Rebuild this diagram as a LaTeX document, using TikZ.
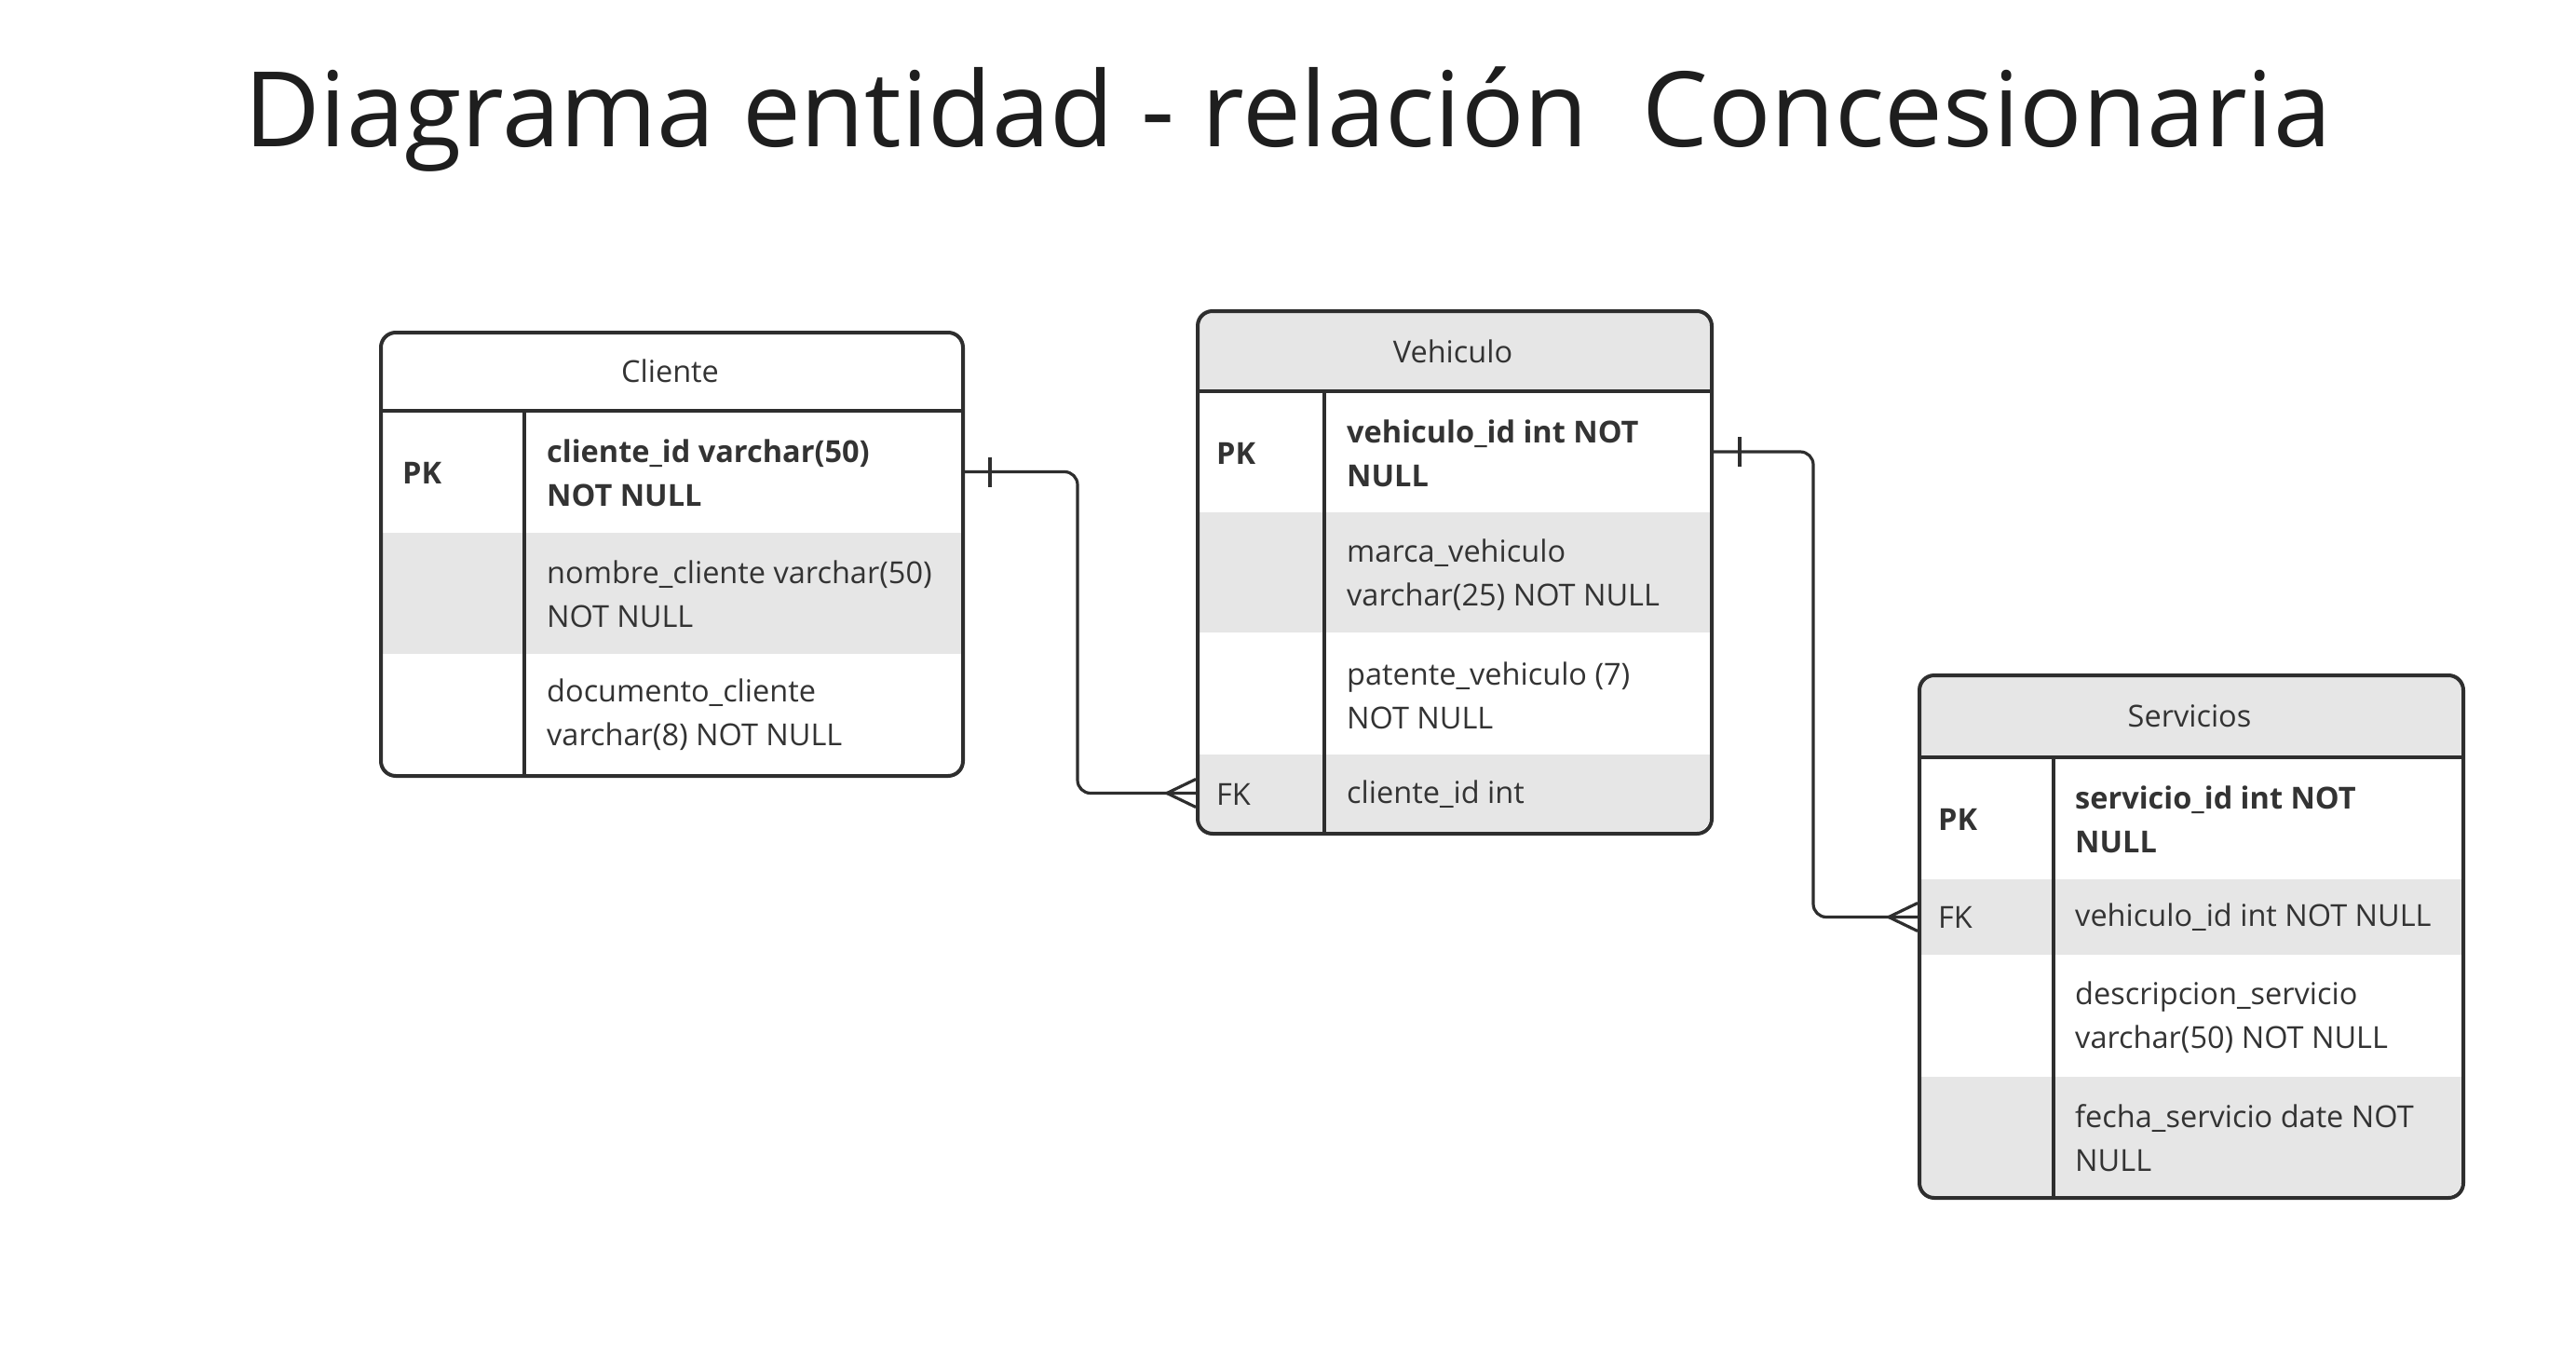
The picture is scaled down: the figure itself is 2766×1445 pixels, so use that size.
\documentclass[tikz,border=0pt]{standalone}
\usepackage{fontspec}
\setmainfont{Open Sans}
\definecolor{txt}{HTML}{333333}
\definecolor{ttlc}{HTML}{1E1E1E}
\definecolor{ln}{HTML}{2E2E2E}
\definecolor{rowg}{HTML}{E6E6E6}
\begin{document}
\begin{tikzpicture}[x=1pt,y=-1pt,
  cell/.style={draw=none,inner sep=0pt,outer sep=0pt,anchor=north west},
  gcell/.style={cell,fill=rowg},
  wcell/.style={cell,fill=white},
  border/.style={draw=ln,line width=4pt,rounded corners=16pt},
  sep/.style={draw=ln,line width=3.5pt},
  conn/.style={draw=ln,line width=3.2pt},
  body/.style={font=\fontsize{32.5}{47}\selectfont,text=txt,inner sep=0pt,align=left,anchor=west},
  bodyb/.style={body,font=\fontsize{32.5}{47}\selectfont\bfseries},
  head/.style={font=\fontsize{32.5}{47}\selectfont,text=txt,inner sep=0pt},
  title/.style={font=\fontsize{112}{130}\selectfont,text=ttlc,inner sep=0pt,anchor=base}
]
\useasboundingbox[fill=white] (0,0) rectangle (2766,1445);

\node[title] (ttl) at (1383,157) {Diagrama entidad - relación\ \ Concesionaria};

% ---------------- Cliente ----------------
\begin{scope}
\clip[rounded corners=16pt] (407,355) rectangle (1032,831);
\node[wcell,minimum width=625pt,minimum height=86pt] (cli-h) at (407,355) {};
\node[wcell,minimum width=625pt,minimum height=131pt] (cli-r1) at (407,441) {};
\node[gcell,minimum width=625pt,minimum height=130pt] (cli-r2) at (407,572) {};
\node[wcell,minimum width=625pt,minimum height=129pt] (cli-r3) at (407,702) {};
\end{scope}
\node[border,minimum width=625pt,minimum height=476pt,anchor=north west,inner sep=0pt] (cliente) at (407,355) {};
\draw[sep] (cli-h.south west) -- (cli-h.south east);
\draw[sep] (563,441) coordinate (cli-d1) -- (563,831) coordinate (cli-d2);
\node[head] (cli-t) at (cli-h.center) {Cliente};
\node[bodyb] (cli-k1) at (432,508) {PK};
\node[bodyb] (cli-f1) at (587,508) {cliente\_id varchar(50)\\NOT NULL};
\node[body] (cli-f2) at (587,638) {nombre\_cliente varchar(50)\\NOT NULL};
\node[body] (cli-f3) at (587,767) {documento\_cliente\\varchar(8) NOT NULL};

% ---------------- Vehiculo ----------------
\begin{scope}
\clip[rounded corners=16pt] (1284,332) rectangle (1836,893);
\node[gcell,minimum width=552pt,minimum height=88pt] (veh-h) at (1284,332) {};
\node[wcell,minimum width=552pt,minimum height=130pt] (veh-r1) at (1284,420) {};
\node[gcell,minimum width=552pt,minimum height=129pt] (veh-r2) at (1284,550) {};
\node[wcell,minimum width=552pt,minimum height=131pt] (veh-r3) at (1284,679) {};
\node[gcell,minimum width=552pt,minimum height=83pt] (veh-r4) at (1284,810) {};
\end{scope}
\node[border,minimum width=552pt,minimum height=561pt,anchor=north west,inner sep=0pt] (vehiculo) at (1284,332) {};
\draw[sep] (veh-h.south west) -- (veh-h.south east);
\draw[sep] (1422,420) coordinate (veh-d1) -- (1422,893) coordinate (veh-d2);
\node[head] (veh-t) at ([yshift=-1pt]veh-h.center) {Vehiculo};
\node[bodyb] (veh-k1) at (1306,487) {PK};
\node[bodyb] (veh-f1) at (1446,487) {vehiculo\_id int NOT\\NULL};
\node[body] (veh-f2) at (1446,617) {marca\_vehiculo\\varchar(25) NOT NULL};
\node[body] (veh-f3) at (1446,747) {patente\_vehiculo (7)\\NOT NULL};
\node[body] (veh-k4) at (1306,853) {FK};
\node[body] (veh-f4) at (1446,853) {cliente\_id int};

% ---------------- Servicios ----------------
\begin{scope}
\clip[rounded corners=16pt] (2059,723) rectangle (2643,1284);
\node[gcell,minimum width=584pt,minimum height=90pt] (ser-h) at (2059,723) {};
\node[wcell,minimum width=584pt,minimum height=131pt] (ser-r1) at (2059,813) {};
\node[gcell,minimum width=584pt,minimum height=81pt] (ser-r2) at (2059,944) {};
\node[wcell,minimum width=584pt,minimum height=131pt] (ser-r3) at (2059,1025) {};
\node[gcell,minimum width=584pt,minimum height=128pt] (ser-r4) at (2059,1156) {};
\end{scope}
\node[border,minimum width=584pt,minimum height=561pt,anchor=north west,inner sep=0pt] (servicios) at (2059,723) {};
\draw[sep] (ser-h.south west) -- (ser-h.south east);
\draw[sep] (2205,813) coordinate (ser-d1) -- (2205,1284) coordinate (ser-d2);
\node[head] (ser-t) at ([yshift=-1pt]ser-h.center) {Servicios};
\node[bodyb] (ser-k1) at (2081,880) {PK};
\node[bodyb] (ser-f1) at (2228,880) {servicio\_id int NOT\\NULL};
\node[body] (ser-k2) at (2081,985) {FK};
\node[body] (ser-f2) at (2228,985) {vehiculo\_id int NOT NULL};
\node[body] (ser-f3) at (2228,1092) {descripcion\_servicio\\varchar(50) NOT NULL};
\node[body] (ser-f4) at (2228,1222) {fecha\_servicio date NOT\\NULL};

% ---------------- Connectors ----------------
\coordinate (m1) at (1157,680);
\draw[conn,rounded corners=14pt] (cli-r1.east) -| (m1) |- (veh-r4.west);
\draw[conn] ([xshift=31pt,yshift=16pt]cli-r1.east) -- ([xshift=31pt,yshift=-16pt]cli-r1.east);
\draw[conn] ([yshift=15pt]veh-r4.west) -- ([xshift=-31pt]veh-r4.west) -- ([yshift=-15pt]veh-r4.west);

\coordinate (m2) at (1947,735);
\draw[conn,rounded corners=14pt] (veh-r1.east) -| (m2) |- (ser-r2.west);
\draw[conn] ([xshift=32pt,yshift=16pt]veh-r1.east) -- ([xshift=32pt,yshift=-16pt]veh-r1.east);
\draw[conn] ([yshift=15pt]ser-r2.west) -- ([xshift=-31pt]ser-r2.west) -- ([yshift=-15pt]ser-r2.west);
\end{tikzpicture}
\end{document}
